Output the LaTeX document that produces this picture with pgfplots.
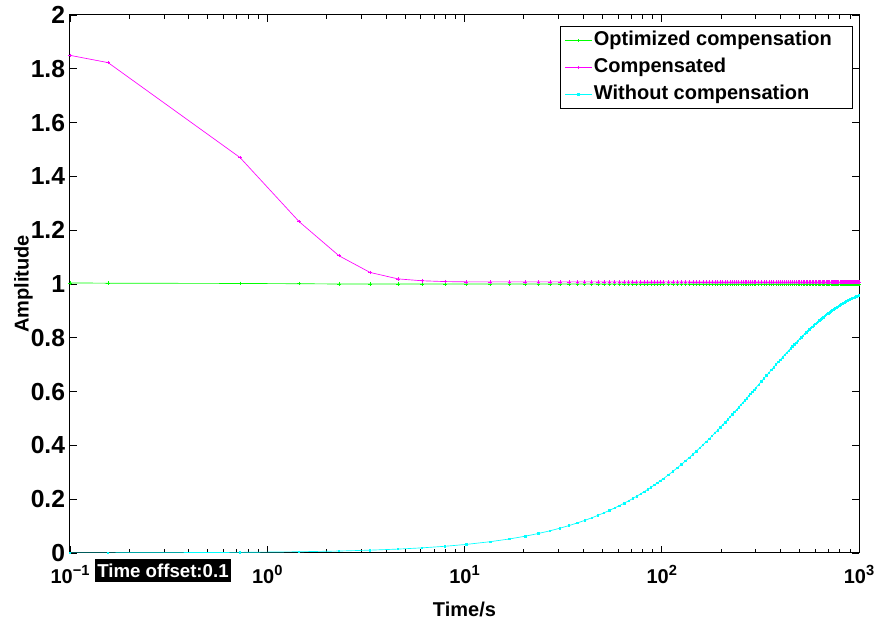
\documentclass[border=0pt]{standalone}
\usepackage{fontspec}
\setmainfont{Liberation Sans}
\usepackage{pgfplots}
\usepackage{pgfplotstable}
\pgfplotsset{compat=1.18}

\definecolor{mgreen}{RGB}{0,255,0}
\definecolor{mmagenta}{RGB}{255,0,255}
\definecolor{mcyan}{RGB}{0,255,255}

\newcommand{\lbl}{\fontsize{15}{18}\selectfont\bfseries}
\newcommand{\ylbl}{\fontsize{18.5}{22}\selectfont\bfseries}
\newcommand{\dec}[1]{10\raisebox{6.5pt}{\fontsize{11}{11}\selectfont #1}}

% t  optimized  compensated  without
\pgfplotstableread{
t g m c
0.1 1.004 1.850 0.0003
0.156 1.003 1.823 0.0005
0.728 1.002 1.470 0.0023
1.45 1.001 1.232 0.0046
2.31 1.000 1.105 0.0073
3.32 1.000 1.043 0.0105
4.6 1.000 1.019 0.0145
6.09 1.000 1.012 0.0191
7.97 1.000 1.009 0.0250
10.2 1.000 1.008 0.0319
13.5 1.000 1.008 0.0420
16.9 1.000 1.008 0.0522
20.3 1.000 1.008 0.0624
23.7 1.000 1.008 0.0725
27.1 1.000 1.008 0.0824
30.5 1.000 1.008 0.0923
33.9 1.000 1.008 0.1020
37.3 1.000 1.008 0.1117
40.7 1.000 1.008 0.1212
44.1 1.000 1.008 0.1306
47.5 1.000 1.008 0.1400
50.9 1.000 1.008 0.1492
54.3 1.000 1.008 0.1583
57.7 1.000 1.008 0.1674
61.1 1.000 1.008 0.1763
64.5 1.000 1.008 0.1852
67.9 1.000 1.008 0.1939
71.3 1.000 1.008 0.2026
74.7 1.000 1.008 0.2111
78.1 1.000 1.008 0.2196
81.5 1.000 1.008 0.2280
84.9 1.000 1.008 0.2363
88.3 1.000 1.008 0.2445
91.7 1.000 1.008 0.2526
95.1 1.000 1.008 0.2606
98.5 1.000 1.008 0.2685
101.9 1.000 1.008 0.2764
107.9 1.000 1.008 0.2900
113.9 1.000 1.008 0.3034
119.9 1.000 1.008 0.3166
125.9 1.000 1.008 0.3295
131.9 1.000 1.008 0.3421
137.9 1.000 1.008 0.3545
143.9 1.000 1.008 0.3667
149.9 1.000 1.008 0.3787
155.9 1.000 1.008 0.3904
161.9 1.000 1.008 0.4019
167.9 1.000 1.008 0.4132
173.9 1.000 1.008 0.4242
179.9 1.000 1.008 0.4351
185.9 1.000 1.008 0.4458
191.9 1.000 1.008 0.4562
197.9 1.000 1.008 0.4665
203.9 1.000 1.008 0.4765
209.9 1.000 1.008 0.4864
215.9 1.000 1.008 0.4961
221.9 1.000 1.008 0.5056
227.9 1.000 1.008 0.5150
233.9 1.000 1.008 0.5241
239.9 1.000 1.008 0.5331
245.9 1.000 1.008 0.5419
251.9 1.000 1.008 0.5505
257.9 1.000 1.008 0.5590
263.9 1.000 1.008 0.5673
269.9 1.000 1.008 0.5755
275.9 1.000 1.008 0.5835
281.9 1.000 1.008 0.5914
287.9 1.000 1.008 0.5991
293.9 1.000 1.008 0.6066
299.9 1.000 1.008 0.6141
309.9 1.000 1.008 0.6261
319.9 1.000 1.008 0.6378
329.9 1.000 1.008 0.6491
339.9 1.000 1.008 0.6601
349.9 1.000 1.008 0.6707
359.9 1.000 1.008 0.6810
369.9 1.000 1.008 0.6910
379.9 1.000 1.008 0.7006
389.9 1.000 1.008 0.7100
399.9 1.000 1.008 0.7190
409.9 1.000 1.008 0.7278
419.9 1.000 1.008 0.7363
429.9 1.000 1.008 0.7446
439.9 1.000 1.008 0.7525
449.9 1.000 1.008 0.7603
459.9 1.000 1.008 0.7678
469.9 1.000 1.008 0.7750
479.9 1.000 1.008 0.7821
489.9 1.000 1.008 0.7889
499.9 1.000 1.008 0.7955
509.9 1.000 1.008 0.8019
519.9 1.000 1.008 0.8080
529.9 1.000 1.008 0.8140
539.9 1.000 1.008 0.8199
549.9 1.000 1.008 0.8255
559.9 1.000 1.008 0.8309
569.9 1.000 1.008 0.8362
579.9 1.000 1.008 0.8413
589.9 1.000 1.008 0.8463
599.9 1.000 1.008 0.8511
609.9 1.000 1.008 0.8557
619.9 1.000 1.008 0.8603
629.9 1.000 1.008 0.8646
639.9 1.000 1.008 0.8689
649.9 1.000 1.008 0.8730
659.9 1.000 1.008 0.8769
669.9 1.000 1.008 0.8808
679.9 1.000 1.008 0.8845
689.9 1.000 1.008 0.8881
699.9 1.000 1.008 0.8916
709.9 1.000 1.008 0.8950
719.9 1.000 1.008 0.8983
729.9 1.000 1.008 0.9015
739.9 1.000 1.008 0.9045
749.9 1.000 1.008 0.9075
759.9 1.000 1.008 0.9104
769.9 1.000 1.008 0.9132
779.9 1.000 1.008 0.9159
789.9 1.000 1.008 0.9185
799.9 1.000 1.008 0.9211
809.9 1.000 1.008 0.9236
819.9 1.000 1.008 0.9259
829.9 1.000 1.008 0.9283
839.9 1.000 1.008 0.9305
849.9 1.000 1.008 0.9327
859.9 1.000 1.008 0.9348
869.9 1.000 1.008 0.9368
879.9 1.000 1.008 0.9388
889.9 1.000 1.008 0.9407
899.9 1.000 1.008 0.9425
909.9 1.000 1.008 0.9443
919.9 1.000 1.008 0.9461
929.9 1.000 1.008 0.9478
939.9 1.000 1.008 0.9494
949.9 1.000 1.008 0.9510
959.9 1.000 1.008 0.9525
969.9 1.000 1.008 0.9540
979.9 1.000 1.008 0.9554
989.9 1.000 1.008 0.9568
999.9 1.000 1.008 0.9582
}\datatable

\begin{document}
\begin{tikzpicture}
\begin{axis}[
  scale only axis,
  width=591.75pt, height=403.5pt,
  xmode=log, xmin=0.1, xmax=1000,
  ymin=0, ymax=2,
  clip mode=individual,
  xtick={0.1,1,10,100,1000},
  xticklabels={\dec{−1},\dec{0},\dec{1},\dec{2},\dec{3}},
  minor xtick={0.2,0.3,0.4,0.5,0.6,0.7,0.8,0.9,2,3,4,5,6,7,8,9,20,30,40,50,60,70,80,90,200,300,400,500,600,700,800,900},
  ytick={0,0.2,0.4,0.6,0.8,1,1.2,1.4,1.6,1.8,2},
  yticklabels={0,0.2,0.4,0.6,0.8,1,1.2,1.4,1.6,1.8,2},
  tick align=inside,
  major tick length=5pt, minor tick length=3pt,
  every tick/.style={black, line width=0.6pt},
  axis line style={line width=0.75pt},
  xticklabel style={font=\lbl, anchor=base, yshift=-23.25pt},
  yticklabel style={font=\ylbl, anchor=east, inner sep=0pt, xshift=-3.5pt},
  xlabel={Time/s}, ylabel={Amplitude},
  label style={font=\lbl},
  xlabel style={at={(axis description cs:0.5,0)}, anchor=base, yshift=-48pt},
  ylabel style={at={([xshift=-31pt]axis description cs:0,0.5)}, anchor=base},
  legend style={at={(1,1)}, anchor=north east, xshift=-4.5pt, yshift=-8.5pt,
    draw=black, line width=0.6pt, font=\lbl, inner xsep=3pt, inner ysep=2.25pt,
    row sep=3.75pt, nodes={inner sep=1pt, text height=11pt, text depth=3.5pt}},
  legend cell align=left,
  legend image code/.code={\draw[line width=0.8pt, mark repeat=2, mark phase=2] plot coordinates {(0pt,0pt) (10pt,0pt) (20pt,0pt)};},
]
\addplot[mgreen, line width=0.5pt, mark=+, mark size=1.3pt, mark options={solid, line width=0.5pt}]
  table[x=t, y=g] {\datatable};
\addlegendentry{\makebox[190pt][l]{Optimized compensation}}
\addplot[mmagenta, line width=0.5pt, mark=+, mark size=1.3pt, mark options={solid, line width=0.5pt}]
  table[x=t, y=m] {\datatable};
\addlegendentry{Compensated}
\addplot[mcyan, line width=0.5pt, mark=square*, mark size=0.55pt, mark options={solid}]
  table[x=t, y=c] {\datatable};
\addlegendentry{Without compensation}

\node[fill=black, text=white, font=\fontsize{14}{16}\selectfont\bfseries, anchor=north west,
  inner xsep=1.5pt, inner ysep=0pt, minimum height=17.25pt]
  at ([xshift=18.75pt, yshift=-4.5pt]rel axis cs:0,0) {Time offset:0.1};
\end{axis}
\path (current axis.south west) ++(-52.5pt,-54pt) coordinate (bl);
\path (current axis.north east) ++(13.5pt,11.25pt) coordinate (tr);
\pgfresetboundingbox
\path[use as bounding box] (bl) rectangle (tr);
\end{tikzpicture}
\end{document}
